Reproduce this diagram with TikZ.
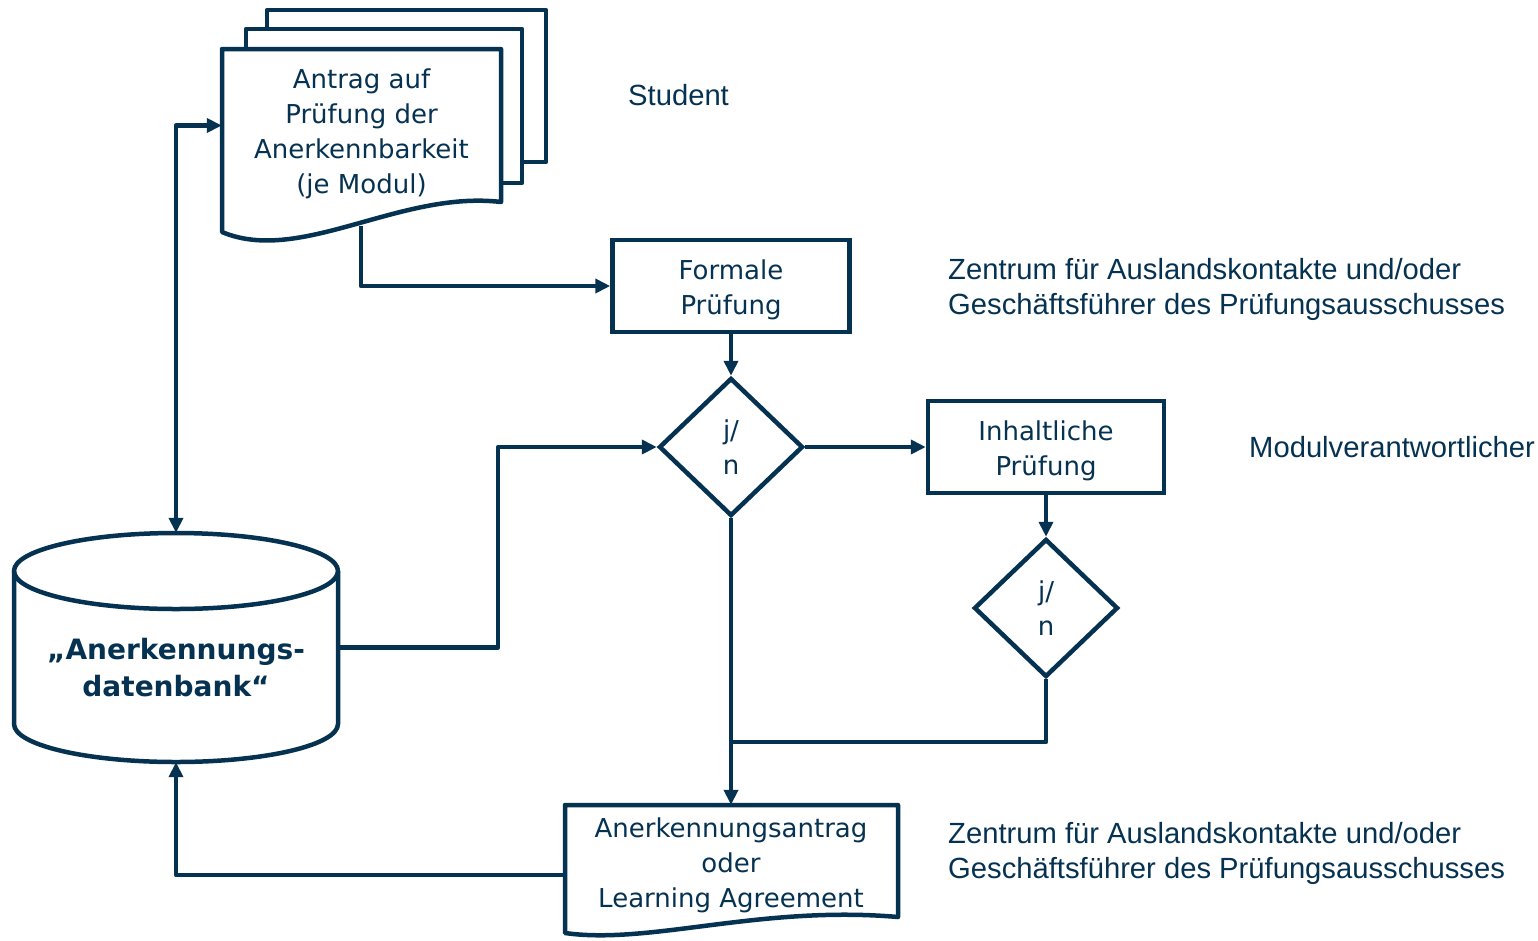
\documentclass[tikz,border=0pt]{standalone}
\usepackage{fontspec}
\setmainfont{DejaVu Sans}
\newfontfamily\rolefont{Liberation Sans}
\usetikzlibrary{arrows.meta,shapes.geometric}
\definecolor{navy}{RGB}{6,50,82}
\tikzset{
  >={Triangle[length=15pt,width=14pt]},
  line/.style={draw=navy,line width=4.5pt,line join=round},
  conn/.style={line,->},
  boxtext/.style={text=navy,font=\fontsize{26}{35}\selectfont,align=center,inner sep=0pt},
  box/.style={boxtext,text height=62.8pt,draw=navy,line width=4.5pt,minimum width=237pt,minimum height=92pt},
  decision/.style={boxtext,diamond,draw=navy,line width=4.5pt,minimum width=144pt,minimum height=138pt},
  role/.style={text=navy,font=\rolefont\fontsize{29.2}{35}\selectfont,align=left,anchor=west,inner sep=0pt}
}
\begin{document}
\begin{tikzpicture}[x=1pt,y=-1pt]
  \useasboundingbox (0,0) rectangle (1538,940);

  % stack of requests
  \draw[line,fill=white] (267,10) rectangle (546,162);
  \draw[line,fill=white] (246,29) rectangle (522,183);
  \node[boxtext,text height=140.8pt,fill=white,minimum width=279pt,minimum height=153pt] (antrag) at (361.5,125.5)
    {Antrag auf\\Prüfung der\\Anerkennbarkeit\\(je Modul)};
  \draw[line] (222,49) -- (501,49) -- (501,202) .. controls (400,190) and (300,265) .. (222,232) -- cycle;
  \coordinate (antragfuss) at (361,226);

  % database
  \node[minimum width=324pt,minimum height=229pt,inner sep=0pt] (datenbank) at (176,647.5) {};
  \draw[line,fill=white] (14,571) -- (14,724) arc[start angle=180,end angle=0,x radius=162,y radius=38] -- (338,571);
  \draw[line] (176,571) ellipse [x radius=162,y radius=38];
  \node[boxtext,font=\bfseries\fontsize{28}{37}\selectfont] (datenbanktext) at (176,668)
    {„Anerkennungs-\\datenbank“};

  % checks
  \node[box] (formal) at (731,286) {Formale\\Prüfung};
  \node[decision] (entscheid1) at (731,447) {j/\\n};
  \node[box,minimum width=236pt] (inhalt) at (1046,447) {Inhaltliche\\Prüfung};
  \node[decision] (entscheid2) at (1046,608) {j/\\n};

  % result
  \node[boxtext,text height=97.8pt,minimum width=333pt,minimum height=112pt] (vereinbarung) at (731,861)
    {Anerkennungsantrag\\oder\\Learning Agreement};
  \draw[line] (565,805) -- (898,805) -- (898,917) .. controls (760,905) and (650,945) .. (565,933) -- cycle;

  % who does it
  \node[role] (student) at (628,95) {Student};
  \node[role] (zentrum1) at (948,289.5) {Zentrum für Auslandskontakte und/oder\\Geschäftsführer des Prüfungsausschusses};
  \node[role] (modul) at (1249,447) {Modulverantwortlicher};
  \node[role] (zentrum2) at (948,853.5) {Zentrum für Auslandskontakte und/oder\\Geschäftsführer des Prüfungsausschusses};

  % flow
  \coordinate (zusammen) at (entscheid1.south |- 0,742);
  \draw[line,<->] (datenbank.north) |- (antrag.west);
  \draw[conn] (antragfuss) |- (formal.west);
  \draw[conn] (formal.south) -- (entscheid1.north);
  \draw[conn] (datenbank.east) -- ++(160,0) |- (entscheid1.west);
  \draw[conn] (entscheid1.east) -- (inhalt.west);
  \draw[conn] (inhalt.south) -- (entscheid2.north);
  \draw[conn] (entscheid1.south) -- (vereinbarung.north);
  \draw[line] (entscheid2.south) |- (zusammen);
  \draw[conn] ([yshift=-14pt]vereinbarung.west) -| (datenbank.south);
\end{tikzpicture}
\end{document}
